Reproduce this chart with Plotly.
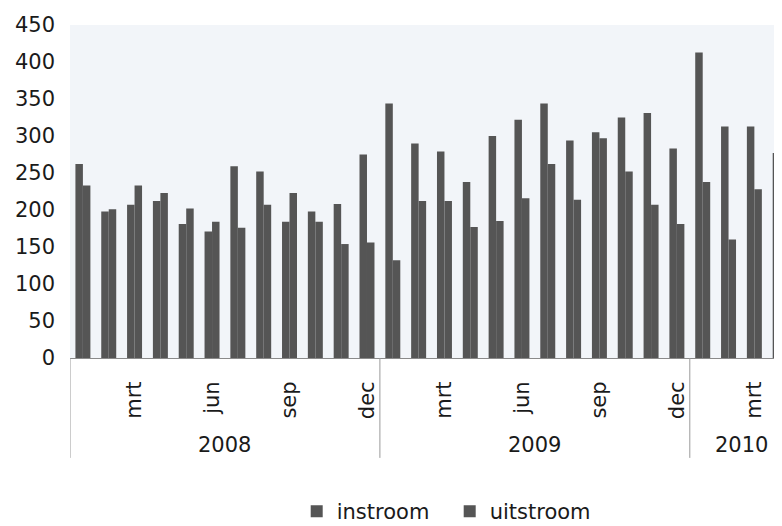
import plotly.graph_objects as go

# ---- data ----
years = ["2008"] * 12 + ["2009"] * 12 + ["2010"] * 4
month_names = ["jan", "feb", "mrt", "apr", "mei", "jun", "jul", "aug", "sep", "okt", "nov", "dec"]
months = (month_names * 3)[:28]
instroom = [262, 198, 207, 212, 181, 171, 259, 252, 184, 198, 208, 275,
            344, 290, 279, 238, 300, 322, 344, 294, 305, 325, 331, 283,
            413, 313, 313, 277]
uitstroom = [233, 201, 233, 223, 202, 184, 176, 207, 223, 184, 154, 156,
             132, 212, 212, 177, 185, 216, 262, 214, 297, 252, 207, 181,
             238, 160, 228, None]
y_ticks = [0, 50, 100, 150, 200, 250, 300, 350, 400, 450]
year_labels = ["2008", "2009", "2010"]

# ---- derived ----
x_idx = list(range(len(months)))
tick_vals = [i for i, m in enumerate(months) if m in ("mrt", "jun", "sep", "dec")]
tick_text = [months[i] for i in tick_vals]

FONT = "DejaVu Sans"
BAR = "#555555"

fig = go.Figure()
fig.add_trace(go.Bar(name="instroom", x=x_idx, y=instroom, marker_color=BAR,
                     marker_line_width=0))
fig.add_trace(go.Bar(name="uitstroom", x=x_idx, y=uitstroom, marker_color=BAR,
                     marker_line_width=0))

# year group labels and dividers
bounds = {}
for i, yr in enumerate(years):
    bounds.setdefault(yr, [i, i])[1] = i
for yr in year_labels:
    a, b = bounds[yr]
    fig.add_annotation(x=(a + b) / 2, y=-0.262, xref="x", yref="paper",
                       text=yr, showarrow=False, yanchor="middle",
                       font=dict(family=FONT, size=21, color="#1a1a1a"))
divs = [-0.5] + [bounds[yr][1] + 0.5 for yr in year_labels[:-1]]
for d in divs:
    fig.add_shape(type="line", x0=d, x1=d, y0=0, y1=-0.30, xref="x", yref="paper",
                  line=dict(color="#9a9a9a", width=1))

fig.update_layout(
    width=774, height=518,
    margin=dict(l=62, r=0, t=17, b=168, autoexpand=False),
    paper_bgcolor="white",
    plot_bgcolor="#f2f5f9",
    barmode="group",
    bargap=0.42,
    bargroupgap=0,
    font=dict(family=FONT, size=21, color="#1a1a1a"),
    showlegend=True,
    legend=dict(orientation="h", xref="container", yref="container",
                x=0.373, y=0.028, xanchor="left", yanchor="middle",
                font=dict(family=FONT, size=21, color="#1a1a1a"),
                entrywidth=108, bgcolor="rgba(0,0,0,0)"),
    xaxis=dict(range=[-0.5, 27.07], tickmode="array", tickvals=tick_vals,
               ticktext=tick_text, tickangle=-90, showgrid=False,
               zeroline=False, showline=True, linecolor="#8a8a8a", linewidth=1,
               ticks="", ticklabelstandoff=14,
               tickfont=dict(family=FONT, size=21, color="#1a1a1a")),
    yaxis=dict(range=[0, 450], tickmode="array", tickvals=y_ticks,
               showgrid=False, zeroline=False, showline=False, ticks="",
               ticklabelstandoff=14,
               tickfont=dict(family=FONT, size=21, color="#1a1a1a")),
)

fig.write_html("out.html")
